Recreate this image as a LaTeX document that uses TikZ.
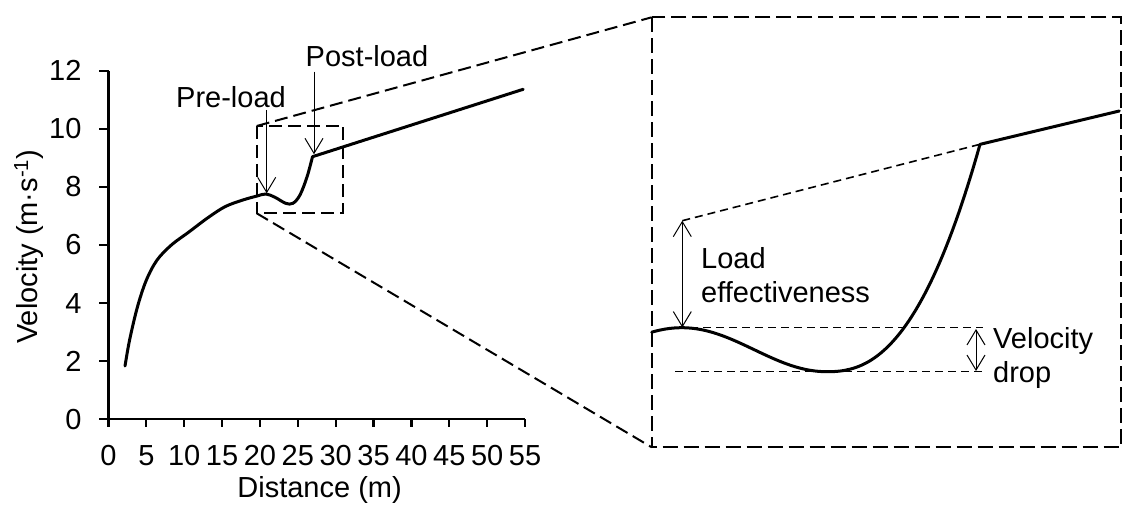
\documentclass[tikz,border=0pt]{standalone}
\usepackage{fontspec}
\setmainfont{Liberation Sans}
\usetikzlibrary{arrows.meta}
\begin{document}
\begin{tikzpicture}[x=1pt,y=-1pt,
  lbl/.style={inner sep=0pt, font=\fontsize{29}{34}\selectfont},
  rlbl/.style={inner sep=0pt, font=\fontsize{29}{34}\selectfont, align=left},
  axisline/.style={line width=2.2pt},
  curve/.style={line width=3pt, line join=round, line cap=round},
  thinarrow/.style={line width=1pt, -{Straight Barb[length=15pt,width=18pt]}},
  dblarrow/.style={line width=1pt, {Straight Barb[length=15pt,width=18pt]}-{Straight Barb[length=15pt,width=18pt]}},
  zoomdash/.style={line width=2pt, dash pattern=on 13pt off 6pt},
  bigdash/.style={line width=2.2pt, dash pattern=on 15pt off 6pt},
  guidedash/.style={line width=1.6pt, dash pattern=on 8pt off 5pt},
]
\useasboundingbox (0,0) rectangle (1128,518);

% ---------- axes ----------
\draw[axisline] (99.3,419.3) -- (525,419.3);
\draw[axisline] (108.5,419.3) -- (108.5,70.7);
\foreach \v in {0,5,...,55}{
  \pgfmathsetmacro\xx{108.5+\v*7.573}
  \draw[axisline] (\xx,419.3) -- (\xx,427.3);
  \node[lbl, anchor=north] (xt\v) at (\xx,445) {\v};
}
\foreach \v in {0,2,...,12}{
  \pgfmathsetmacro\yy{419.3-\v*29.05}
  \draw[axisline] (99.3,\yy) -- (108.5,\yy);
  \node[lbl, anchor=east] (yt\v) at (81.7,\yy) {\v};
}
\node[lbl, anchor=base] (xlab) at (319.6,497.3) {Distance (m)};
\node[lbl, rotate=90] (ylab) at (28.6,246.7) {Velocity (m·s\textsuperscript{-1})};

% ---------- left curve ----------
\draw[curve] plot[smooth, tension=0.55] coordinates {
 (125,366) (129.6,340) (137.5,306.7) (146.4,280) (157.1,260) (171.4,245)
 (189.3,231.7) (207.1,218.3) (225,206.7) (242.9,200) (257.1,196) (266,194)
 (275,197.3) (285.7,203.3) (292.9,203.3) (300,195) (307.1,176.7) (312.5,156.7)}
 -- (523.2,89.3);

% ---------- small zoom box and connectors ----------
\coordinate (sTL) at (256.7,126);
\coordinate (sBR) at (343.3,213.3);
\coordinate (sBL) at (256.7,213.3);
\coordinate (bTL) at (651.7,17.3);
\coordinate (bBR) at (1121,447.3);
\coordinate (bBL) at (651.7,447.3);
\draw[zoomdash] (sTL) rectangle (sBR);
\draw[zoomdash] (sTL) -- (bTL);
\draw[zoomdash] (sBL) -- (bBL);
\draw[bigdash] (bTL) rectangle (bBR);

% ---------- pre/post load arrows ----------
\node[lbl, anchor=base] (pre) at (231,107.3) {Pre-load};
\node[lbl, anchor=base] (post) at (367,66.7) {Post-load};
\coordinate (preTop) at (266.7,110);
\coordinate (prePk) at (266.7,193.3);
\coordinate (postTop) at (314,71.7);
\coordinate (postPk) at (314,154.3);
\draw[thinarrow] (preTop) -- (prePk);
\draw[thinarrow] (postTop) -- (postPk);

% ---------- right (zoomed) panel ----------
\draw[curve] plot[domain=651.7:826.7, samples=50] ({\x},{349.7-22*cos((\x-681.7)*1.2414)})
 -- plot[domain=0.01:1, samples=50] ({826.7+153.3*\x},{371.7-227.4*(\x)^2.4})
 -- (1119.3,111);

\coordinate (leTop) at (682.3,220.7);
\coordinate (leBot) at (682.3,327.5);
\coordinate (corner) at (980,144.3);
\draw[guidedash] (leTop) -- (corner);
\draw[dblarrow] (leTop) -- (leBot);
\node[rlbl, anchor=base west] (le) at (701,302.3) {Load\\effectiveness};

\coordinate (hTopL) at (690,327.7);
\coordinate (hTopR) at (983,327.7);
\coordinate (hBotL) at (675,371.7);
\coordinate (hBotR) at (983,371.7);
\draw[guidedash] (hTopL) -- (hTopR);
\draw[guidedash] (hBotL) -- (hBotR);
\coordinate (vdTop) at (976,329);
\coordinate (vdBot) at (976,371);
\draw[dblarrow] (vdTop) -- (vdBot);
\node[rlbl, anchor=base west] (vd) at (993,382.7) {Velocity\\drop};
\end{tikzpicture}
\end{document}
